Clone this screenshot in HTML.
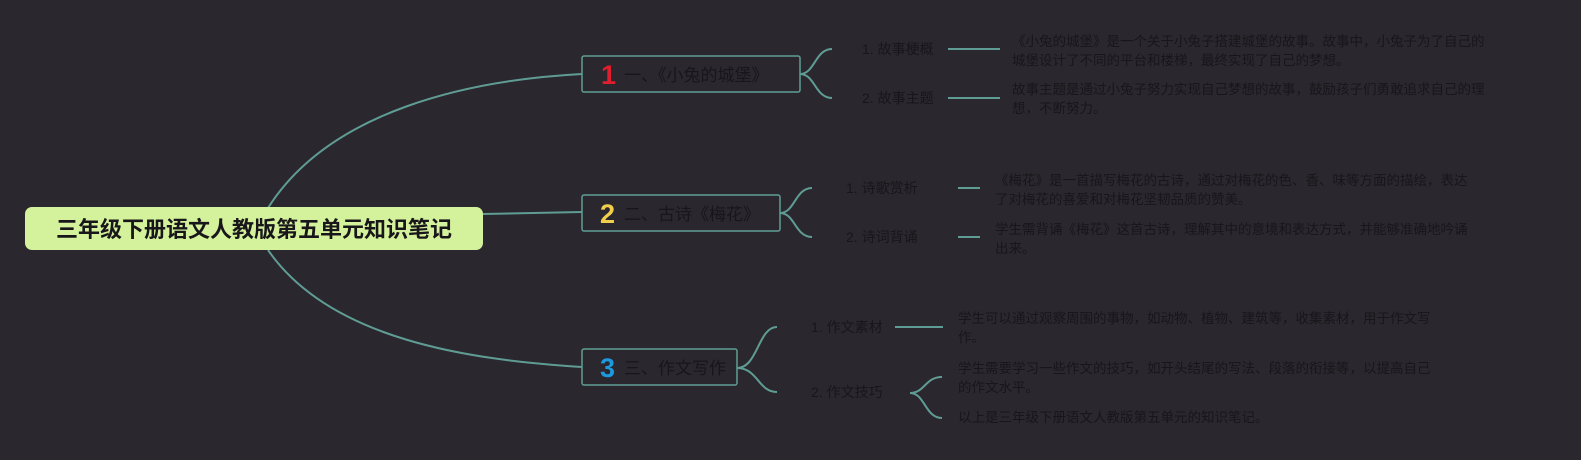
<!DOCTYPE html>
<html><head><meta charset="utf-8"><style>
html,body{margin:0;padding:0;background:#2b272e;}
svg{display:block;}
text{font-family:"Liberation Sans","Noto Sans CJK SC",sans-serif;fill:#18161a;}
</style></head><body>
<svg width="1581" height="460" viewBox="0 0 1581 460" xmlns="http://www.w3.org/2000/svg">
<rect width="1581" height="460" fill="#2b272e"/>
<g fill="none" stroke="#5f9d94" stroke-width="2">
<path d="M268 208 C330 110 470 80 582 74"/>
<path d="M483 214 L582 212"/>
<path d="M268 250 C330 340 470 360 582 367"/>
<path d="M800 74 C815 74 815 49 832 49"/>
<path d="M800 74 C815 74 815 98 832 98"/>
<path d="M948 49 L1000 49"/><path d="M948 98 L1000 98"/>
<path d="M780 213 C795 213 795 188 812 188"/>
<path d="M780 213 C795 213 795 237 812 237"/>
<path d="M958 188 L980 188"/><path d="M958 237 L980 237"/>
<path d="M737 368 C758 368 758 327 777 327"/>
<path d="M737 368 C758 368 758 392 777 392"/>
<path d="M895 327 L943 327"/>
<path d="M910 393 C925 393 925 377 942 377"/>
<path d="M910 393 C925 393 925 418 942 418"/>
</g>
<rect x="25" y="207" width="458" height="43" rx="7" fill="#d3f29b"/>
<text x="254" y="237" text-anchor="middle" font-size="22" font-weight="bold">三年级下册语文人教版第五单元知识笔记</text>
<g fill="#2b272e" stroke="#5f9d94" stroke-width="1.5">
<rect x="582" y="56" width="218" height="36" rx="2"/>
<rect x="582" y="195" width="198" height="36" rx="2"/>
<rect x="582" y="349" width="155" height="36" rx="2"/>
</g>
<text x="601" y="84" font-size="27" font-weight="bold" style="fill:#e01e2e">1</text>
<text x="624" y="81" font-size="17">一、《小兔的城堡》</text>
<text x="600" y="223" font-size="27" font-weight="bold" style="fill:#f2cf4a">2</text>
<text x="624" y="220" font-size="17">二、古诗《梅花》</text>
<text x="600" y="377" font-size="27" font-weight="bold" style="fill:#1c9ae0">3</text>
<text x="624" y="374" font-size="17">三、作文写作</text>
<g font-size="14">
<text x="862" y="54">1. 故事梗概</text>
<text x="862" y="103">2. 故事主题</text>
<text x="846" y="193">1. 诗歌赏析</text>
<text x="846" y="242">2. 诗词背诵</text>
<text x="811" y="332">1. 作文素材</text>
<text x="811" y="397">2. 作文技巧</text>
</g>
<g font-size="13.5">
<text x="1012" y="46">《小兔的城堡》是一个关于小兔子搭建城堡的故事。故事中，小兔子为了自己的</text>
<text x="1012" y="65">城堡设计了不同的平台和楼梯，最终实现了自己的梦想。</text>
<text x="1012" y="94">故事主题是通过小兔子努力实现自己梦想的故事，鼓励孩子们勇敢追求自己的理</text>
<text x="1012" y="113">想，不断努力。</text>
<text x="995" y="185">《梅花》是一首描写梅花的古诗，通过对梅花的色、香、味等方面的描绘，表达</text>
<text x="995" y="204">了对梅花的喜爱和对梅花坚韧品质的赞美。</text>
<text x="995" y="234">学生需背诵《梅花》这首古诗，理解其中的意境和表达方式，并能够准确地吟诵</text>
<text x="995" y="253">出来。</text>
<text x="958" y="323">学生可以通过观察周围的事物，如动物、植物、建筑等，收集素材，用于作文写</text>
<text x="958" y="342">作。</text>
<text x="958" y="373">学生需要学习一些作文的技巧，如开头结尾的写法、段落的衔接等，以提高自己</text>
<text x="958" y="392">的作文水平。</text>
<text x="958" y="422">以上是三年级下册语文人教版第五单元的知识笔记。</text>
</g>
</svg>
</body></html>
